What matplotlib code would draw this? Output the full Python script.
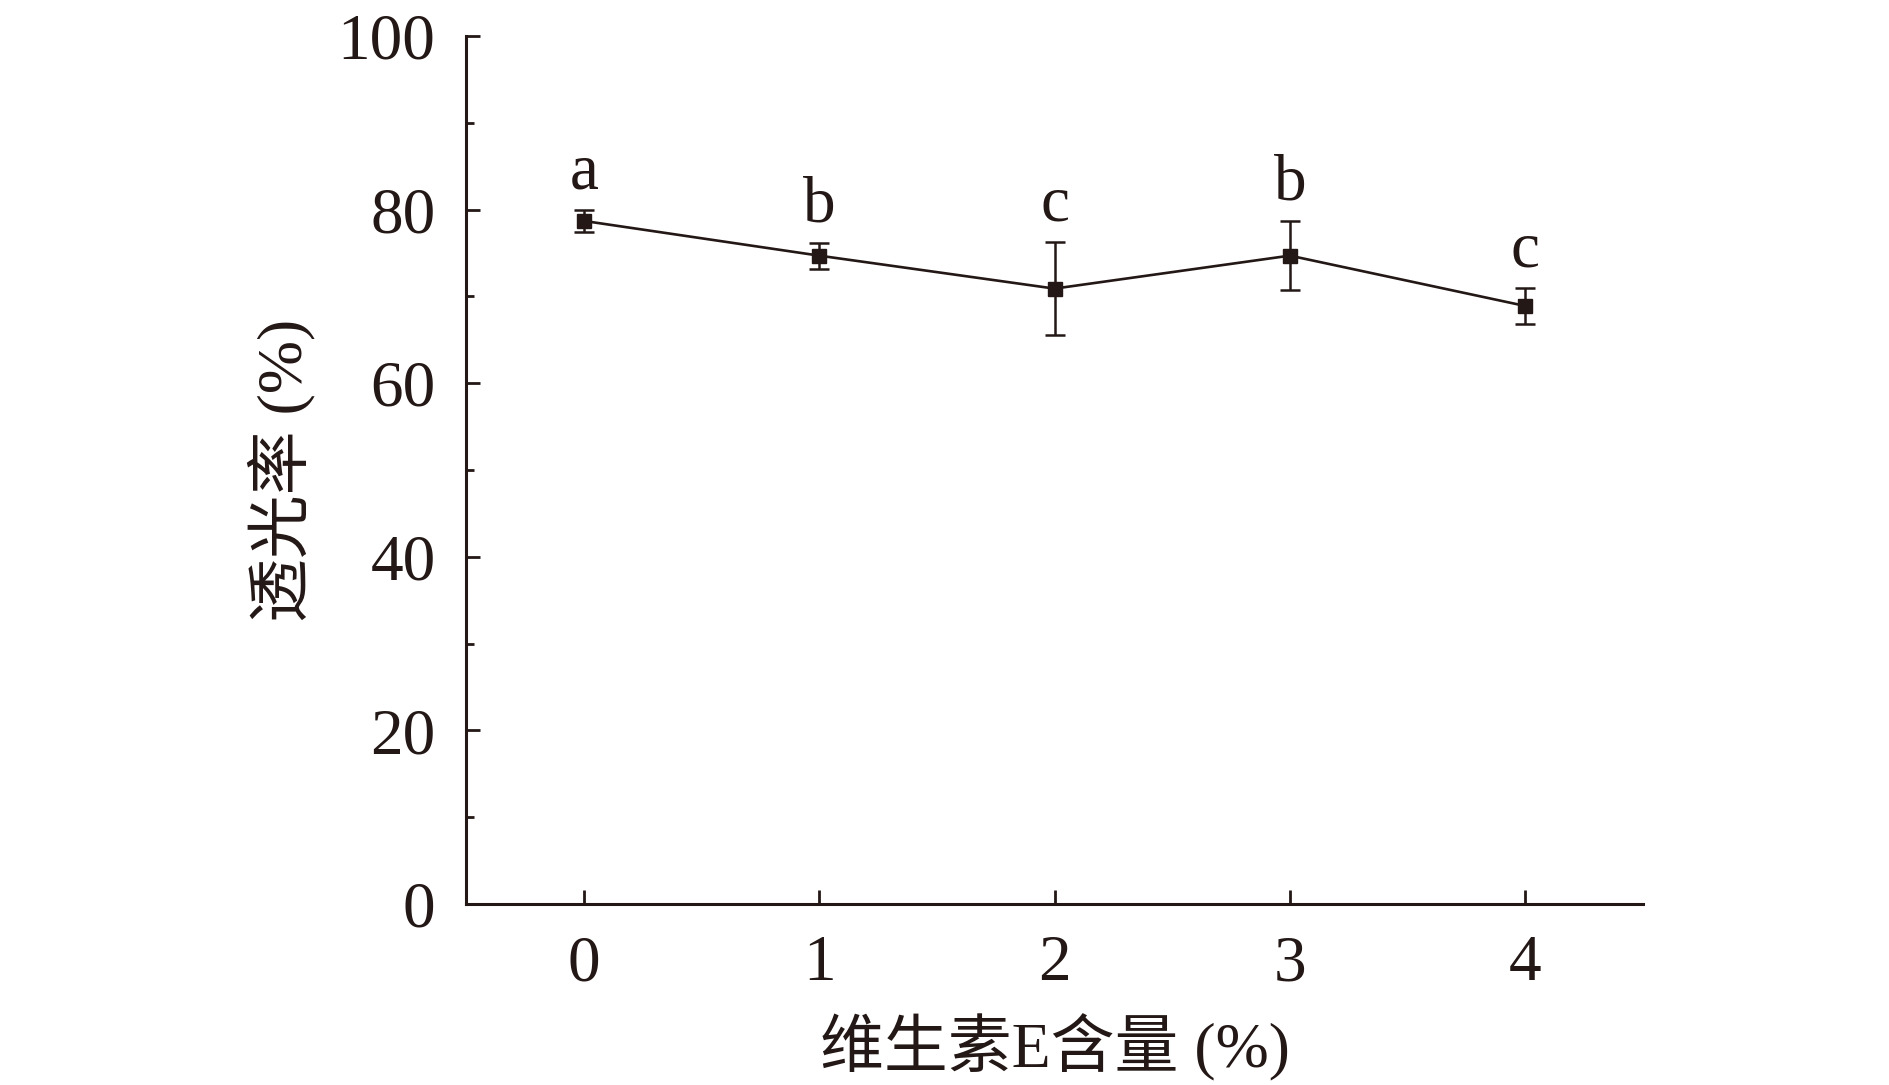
import matplotlib
matplotlib.use("Agg")
import matplotlib.pyplot as plt
from matplotlib.ticker import MultipleLocator

plt.rcParams['font.family'] = ['Liberation Serif', 'Noto Sans CJK SC', 'DejaVu Sans']

ve_content = [0, 1, 2, 3, 4]
transmittance = [78.7, 74.7, 70.9, 74.7, 68.9]
errors = [1.3, 1.5, 5.4, 4.0, 2.1]
letters = ['a', 'b', 'c', 'b', 'c']
xticklabels = ['0', '1', '2', '3', '4']
yticks = [0, 20, 40, 60, 80, 100]

fig = plt.figure(figsize=(18.9, 10.85), dpi=100)
ax = fig.add_axes([0.2466, 0.1668, 0.8693 - 0.2466, 0.9668 - 0.1668])

col = '#231815'
ax.errorbar(ve_content, transmittance, yerr=errors, color=col, lw=1.9,
            marker='s', ms=10, mfc=col, mec=col, capsize=7, capthick=1.8,
            elinewidth=1.8)

for x, y, e, t in zip(ve_content, transmittance, errors, letters):
    ax.text(x, y + e + 4.3, t, ha='center', va='center', fontsize=47, color=col)

ax.set_xlim(-0.5, 4.5)
ax.set_ylim(0, 100)
ax.set_xticks(ve_content)
ax.set_xticklabels(xticklabels)
ax.set_yticks(yticks)
ax.yaxis.set_minor_locator(MultipleLocator(10))

for s in ['top', 'right']:
    ax.spines[s].set_visible(False)
for s in ['left', 'bottom']:
    ax.spines[s].set_linewidth(2.2)
    ax.spines[s].set_color(col)

ax.tick_params(axis='both', which='major', direction='in', length=10, width=2,
               labelsize=47, colors=col, pad=22)
ax.tick_params(axis='y', which='minor', direction='in', length=6, width=2, colors=col)
ax.tick_params(axis='x', which='minor', bottom=False)

ax.set_xlabel('维生素E含量 (%)', fontsize=46, color=col, labelpad=14)
ax.set_ylabel('透光率 (%)', fontsize=46, color=col, labelpad=16)

fig.savefig('out.png', dpi=100)
